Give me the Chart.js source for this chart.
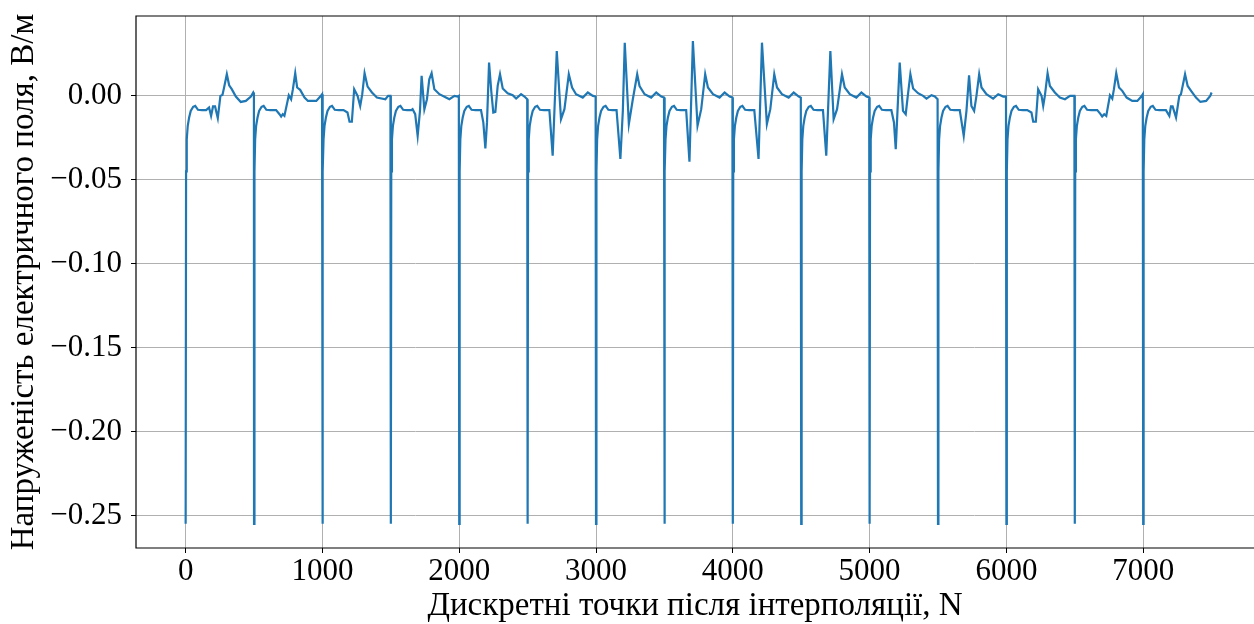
<!DOCTYPE html>
<html>
<head>
<meta charset="utf-8">
<script src="https://cdn.jsdelivr.net/npm/chart.js@4.4.0/dist/chart.umd.min.js"></script>
<style>
  html, body { margin: 0; padding: 0; background: #fff; overflow: hidden; }
  #wrap { width: 1254px; height: 624px; }
</style>
</head>
<body>
<div id="wrap"><canvas id="chart" width="1254" height="624"></canvas></div>
<script>
// tick labels
const xTicks = [0, 1000, 2000, 3000, 4000, 5000, 6000, 7000];
const yTicks = [0, -0.05, -0.10, -0.15, -0.20, -0.25];

// each beat starts with the deep negative spike
const beatStart = [0, 500, 1000, 1500, 2000, 2500, 3000, 3500, 4000, 4500, 5000, 5500, 6000, 6500, 7000];

// shared recovery right after the spike: [offset, value]
const onset = [[0, -0.255], [3, -0.045], [8, -0.026], [15, -0.018], [25, -0.013], [37, -0.009],
  [55, -0.0065], [70, -0.006], [90, -0.0083], [120, -0.0085], [150, -0.0085]];

// rest of each beat: [offset, value]
const beat00 = [[171, -0.0069], [186, -0.0119], [200, -0.0063], [215, -0.0063], [235, -0.0133], [254, 0], [269, 0.0006],
  [281, 0.005], [301, 0.0129], [318, 0.0063], [337, 0.004], [367, -0.0004], [403, -0.0036], [440, -0.003], [477, -0.0004], [494, 0.002], [499, 0.001]];
const beat01 = [[161, -0.0085], [186, -0.0109], [198, -0.0123], [210, -0.0109], [222, -0.0119], [254, 0.0004], [271, -0.002],
  [284, 0.004], [301, 0.0135], [315, 0.005], [337, 0.0036], [369, -0.001], [394, -0.003], [455, -0.003], [484, -0.0004], [497, 0.001]];
const beat02 = [[154, -0.0085], [183, -0.0099], [198, -0.0154], [215, -0.0154], [232, 0.004], [257, 0], [276, -0.006],
  [291, 0.001], [308, 0.0135], [330, 0.0055], [362, 0.002], [398, -0.001], [460, -0.002], [480, 0], [497, 0]];
const beat03 = [[159, -0.0079], [178, -0.0109], [196, -0.0238], [213, -0.0089], [225, 0.0119], [245, -0.008], [264, -0.002],
  [281, 0.0099], [298, 0.0135], [318, 0.004], [355, 0.001], [403, -0.001], [428, -0.002], [465, 0], [489, -0.0004], [497, 0]];
const beat04 = [[159, -0.0085], [176, -0.0158], [191, -0.0313], [203, -0.0158], [218, 0.0198], [235, 0.002], [249, -0.0099],
  [264, -0.0095], [281, 0.006], [298, 0.0129], [318, 0.0044], [354, 0.0016], [391, 0.0004], [416, -0.0016], [452, 0.001], [477, -0.0004], [497, -0.002]];
const beat05 = [[159, -0.0085], [183, -0.0356], [213, 0.0267], [244, -0.0139], [269, -0.0079], [301, 0.0129], [325, 0.005],
  [354, 0.001], [403, -0.001], [440, 0.002], [477, 0], [497, -0.0004]];
const beat06 = [[152, -0.0085], [178, -0.0376], [196, -0.0089], [210, 0.0317], [240, -0.0168], [269, -0.002], [301, 0.0129],
  [318, 0.0059], [355, 0.001], [403, -0.001], [440, 0.002], [477, -0.0004], [497, -0.001]];
const beat07 = [[159, -0.0085], [183, -0.0392], [208, 0.0327], [242, -0.0178], [269, -0.0079], [298, 0.0129], [318, 0.005],
  [355, 0.001], [403, -0.001], [440, 0.002], [477, -0.0004], [497, -0.001]];
const beat08 = [[157, -0.0085], [188, -0.0376], [213, 0.0317], [249, -0.0168], [274, -0.0079], [303, 0.0129], [323, 0.005],
  [359, 0.001], [408, -0.001], [445, 0.002], [482, -0.0004], [497, -0.001]];
const beat09 = [[159, -0.0085], [183, -0.0356], [213, 0.0267], [237, -0.0139], [262, -0.0079], [298, 0.0129], [318, 0.005],
  [355, 0.001], [403, -0.001], [440, 0.002], [477, -0.0004], [497, -0.001]];
const beat10 = [[159, -0.0085], [178, -0.0158], [191, -0.0317], [200, -0.0158], [220, 0.0198], [244, -0.0089], [264, -0.0109],
  [279, 0], [298, 0.0129], [318, 0.0044], [354, 0.0016], [391, 0], [416, -0.0016], [452, 0.0004], [477, -0.0004], [497, -0.002]];
const beat11 = [[159, -0.0085], [188, -0.0238], [208, -0.0089], [227, 0.0123], [244, -0.006], [264, -0.0089], [281, 0],
  [301, 0.0129], [318, 0.005], [354, 0.001], [403, -0.0016], [440, 0.001], [477, -0.0004], [497, -0.0004]];
const beat12 = [[152, -0.0085], [183, -0.0099], [196, -0.0154], [215, -0.0154], [232, 0.004], [257, 0], [269, -0.006],
  [281, 0], [301, 0.0135], [318, 0.0059], [354, 0.002], [391, -0.001], [428, -0.002], [465, 0], [497, 0]];
const beat13 = [[164, -0.0085], [188, -0.0109], [200, -0.0123], [215, -0.0109], [230, -0.0119], [257, 0.0004], [274, -0.0016],
  [286, 0.004], [303, 0.0135], [323, 0.005], [347, 0.003], [379, -0.001], [420, -0.003], [457, -0.003], [486, -0.0004], [497, 0.001]];
const beat14 = [[166, -0.0085], [191, -0.0119], [203, -0.0063], [215, -0.0063], [240, -0.0129], [264, 0], [276, 0.001],
  [306, 0.0129], [325, 0.0059], [350, 0.003], [386, -0.001], [418, -0.0036], [460, -0.003], [490, 0], [500, 0.002]];

const beats = [beat00, beat01, beat02, beat03, beat04, beat05, beat06, beat07,
  beat08, beat09, beat10, beat11, beat12, beat13, beat14];

const points = [];
beats.forEach((beat, k) => {
  onset.concat(beat).forEach(([dx, v]) => points.push({ x: beatStart[k] + dx, y: v }));
});

const serif = 'Liberation Serif';

// axes box; the picture is cut before the right side of the box
const frame = {
  id: 'frame',
  afterDatasetsDraw(chart) {
    const a = chart.chartArea, ctx = chart.ctx;
    ctx.save();
    ctx.strokeStyle = '#000';
    ctx.lineWidth = 1.2;
    ctx.beginPath();
    ctx.moveTo(a.right + 2, a.top);
    ctx.lineTo(a.left, a.top);
    ctx.lineTo(a.left, a.bottom);
    ctx.lineTo(a.right + 2, a.bottom);
    ctx.stroke();
    ctx.restore();
  }
};

// no extra room for overhanging tick labels
const noPad = s => { s.paddingTop = 0; s.paddingBottom = 0; s.paddingLeft = 0; s.paddingRight = 0; };

new Chart(document.getElementById('chart'), {
  type: 'scatter',
  data: {
    datasets: [{
      data: points,
      showLine: true,
      borderColor: '#1f77b4',
      borderWidth: 2.2,
      pointRadius: 0,
      tension: 0,
      fill: false
    }]
  },
  options: {
    responsive: false,
    animation: false,
    layout: { padding: { top: 16, right: 0, left: 0, bottom: 0 } },
    plugins: { legend: { display: false }, tooltip: { enabled: false } },
    scales: {
      x: {
        type: 'linear',
        position: 'bottom',
        min: -363,
        max: 7810,
        afterBuildTicks: s => { s.ticks = xTicks.map(v => ({ value: v })); },
        afterFit: s => { s.height = 76; noPad(s); },
        border: { display: false },
        grid: { color: '#b0b0b0', lineWidth: 1, tickLength: 5, tickColor: '#000' },
        ticks: {
          color: '#000', padding: 0, maxRotation: 0, autoSkip: false,
          font: { family: serif, size: 31 },
          callback: v => String(v)
        },
        title: {
          display: true,
          text: 'Дискретні точки після інтерполяції, N',
          color: '#000',
          font: { family: serif, size: 33, lineHeight: 1 },
          padding: { top: 0, bottom: 1 }
        }
      },
      y: {
        min: -0.2694,
        max: 0.0476,
        afterBuildTicks: s => { s.ticks = yTicks.map(v => ({ value: v })); },
        afterFit: s => { s.width = 136; noPad(s); },
        border: { display: false },
        grid: { color: '#b0b0b0', lineWidth: 1, tickLength: 5, tickColor: '#000' },
        ticks: {
          color: '#000', padding: 9,
          font: { family: serif, size: 31 },
          callback: v => v.toFixed(2).replace('-', '\u2212')
        },
        title: {
          display: true,
          text: 'Напруженість електричного поля, В/м',
          color: '#000',
          font: { family: serif, size: 33, lineHeight: 1 },
          padding: { top: 8, bottom: 0 }
        }
      }
    }
  },
  plugins: [frame]
});
</script>
</body>
</html>
